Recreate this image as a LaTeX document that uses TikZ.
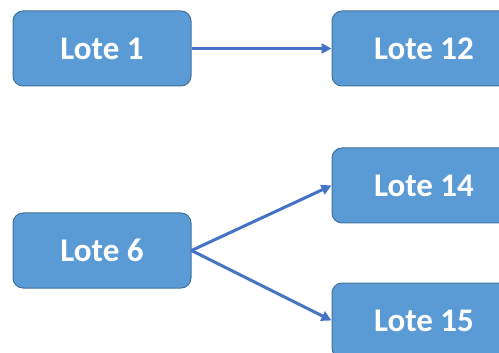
\documentclass[tikz,border=0pt]{standalone}
\usepackage{fontspec}
\setmainfont{Carlito}
\usetikzlibrary{arrows.meta}
\definecolor{boxfill}{HTML}{5B9BD5}
\definecolor{boxline}{HTML}{41719C}
\definecolor{arr}{HTML}{4472C4}
\begin{document}
\begin{tikzpicture}[x=1pt,y=-1pt,
  lote/.style={draw=boxline, line width=1pt, fill=boxfill, rounded corners=10pt,
    minimum width=178pt, minimum height=75pt, text=white, inner sep=0pt,
    font=\fontsize{33}{38}\selectfont\bfseries},
  wide/.style={minimum width=184pt},
  conn/.style={draw=arr, line width=3pt, -{Triangle[length=10pt,width=10pt]}}]
\useasboundingbox (0,0) rectangle (499,353);
\clip (0,0) rectangle (499,353);
\node[lote] (l1) at (102,48.5) {Lote 1};
\node[lote,wide] (l12) at (424,48.5) {Lote 12};
\node[lote] (l6) at (102,250.5) {Lote 6};
\node[lote,wide] (l14) at (424,185.5) {Lote 14};
\node[lote,wide] (l15) at (424,320.5) {Lote 15};
\draw[conn] (l1) -- (l12);
\draw[conn] (l6.east) -- (l14.west);
\draw[conn] (l6.east) -- (l15.west);
\end{tikzpicture}
\end{document}
